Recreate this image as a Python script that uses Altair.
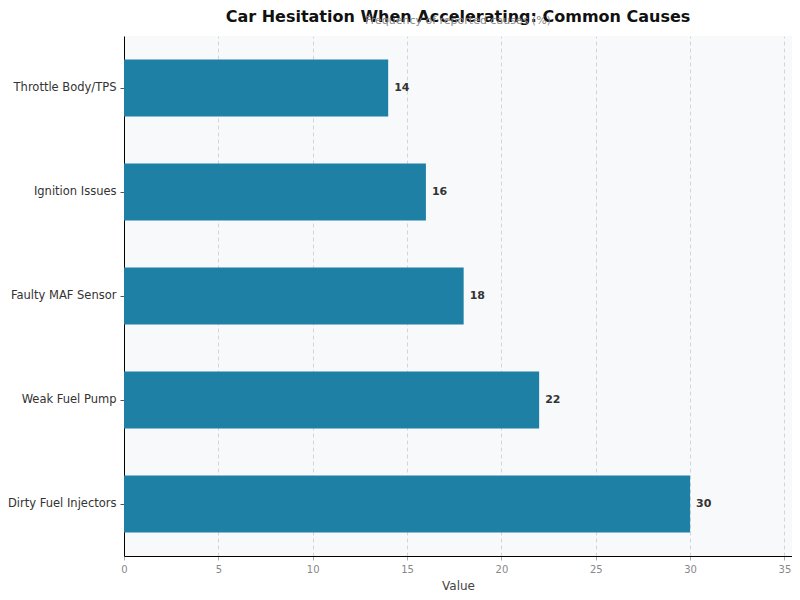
import altair as alt
import pandas as pd

# causes listed top to bottom as drawn
causes = [
    "Throttle Body/TPS",
    "Ignition Issues",
    "Faulty MAF Sensor",
    "Weak Fuel Pump",
    "Dirty Fuel Injectors",
]
values = [14, 16, 18, 22, 30]
x_ticks = [0, 5, 10, 15, 20, 25, 30, 35]

df = pd.DataFrame({"Cause": causes, "Value": values})

y_enc = alt.Y(
    "Cause:N",
    sort=causes,
    title=None,
    scale=alt.Scale(paddingInner=0.45, paddingOuter=0.225),
    axis=alt.Axis(
        labelFont="DejaVu Sans",
        labelFontSize=11.5,
        labelColor="#333333",
        labelPadding=4,
        tickSize=4,
        tickColor="#555555",
        domainColor="#000000",
        domainWidth=1,
        grid=False,
    ),
)

x_enc = alt.X(
    "Value:Q",
    title="Value",
    scale=alt.Scale(domain=[0, 35.4], nice=False, zero=True),
    axis=alt.Axis(
        values=x_ticks,
        labelFlush=False,
        labelFont="DejaVu Sans",
        labelFontSize=10,
        labelColor="#888888",
        labelPadding=4,
        tickSize=4,
        tickColor="#aaaaaa",
        domainColor="#000000",
        domainWidth=1,
        grid=True,
        gridColor="#cccccc",
        gridDash=[4, 3],
        gridWidth=0.8,
        titleFont="DejaVu Sans",
        titleFontSize=12,
        titleFontWeight="normal",
        titleColor="#444444",
        titlePadding=6,
    ),
)

bars = alt.Chart(df).mark_bar(color="#1f80a6").encode(x=x_enc, y=y_enc)

labels = alt.Chart(df).mark_text(
    align="left",
    baseline="middle",
    dx=6,
    font="DejaVu Sans",
    fontSize=11,
    fontWeight="bold",
    color="#333333",
).encode(x="Value:Q", y=alt.Y("Cause:N", sort=causes), text="Value:Q")

chart = (
    alt.layer(bars, labels)
    .properties(
        width=668,
        height=520,
        autosize=alt.AutoSizeParams(type="none"),
        padding={"left": 116, "top": 28, "right": 0, "bottom": 36},
        title=alt.TitleParams(
            text="Car Hesitation When Accelerating: Common Causes",
            subtitle="Frequency of reported causes (%)",
            font="DejaVu Sans",
            fontSize=16,
            fontWeight="bold",
            color="#111111",
            subtitleFont="DejaVu Sans",
            subtitleFontSize=11,
            subtitleColor="#888888",
            subtitlePadding=-10,
            anchor="middle",
            offset=10,
        ),
    )
    .configure_view(fill="#f8f9fa", stroke=None)
)

chart.save("out.html", embed_options={"renderer": "svg", "actions": False})
